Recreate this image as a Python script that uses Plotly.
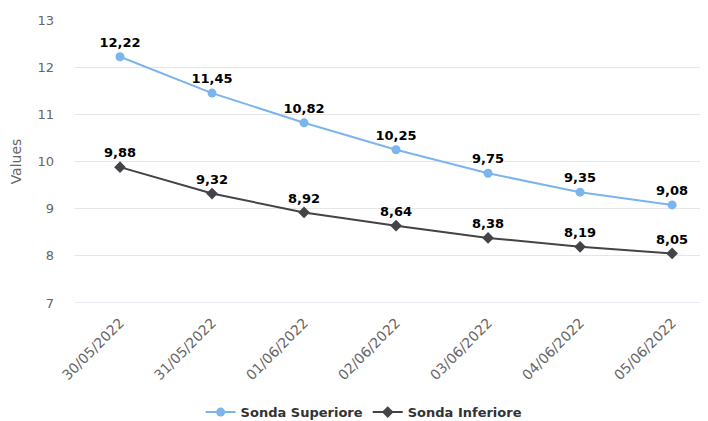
import plotly.graph_objects as go

dates = ["30/05/2022", "31/05/2022", "01/06/2022", "02/06/2022",
         "03/06/2022", "04/06/2022", "05/06/2022"]
sonda_superiore = [12.22, 11.45, 10.82, 10.25, 9.75, 9.35, 9.08]
sonda_inferiore = [9.88, 9.32, 8.92, 8.64, 8.38, 8.19, 8.05]
y_ticks = [7, 8, 9, 10, 11, 12, 13]

FONT = "DejaVu Sans"

def fmt(v):
    return f"{v:.2f}".replace(".", ",")

x_idx = list(range(len(dates)))
label_font = dict(family=FONT, size=13, color="#000000", weight="bold",
                  shadow="1px 1px 0 #fff, -1px -1px 0 #fff, 1px -1px 0 #fff, -1px 1px 0 #fff")

fig = go.Figure()
fig.add_trace(go.Scatter(
    x=x_idx, y=sonda_superiore, name="Sonda Superiore",
    mode="lines+markers+text",
    line=dict(color="#7cb5ec", width=2),
    marker=dict(symbol="circle", size=9, color="#7cb5ec"),
    text=[fmt(v) for v in sonda_superiore], textposition="top center",
    textfont=label_font, cliponaxis=False,
))
fig.add_trace(go.Scatter(
    x=x_idx, y=sonda_inferiore, name="Sonda Inferiore",
    mode="lines+markers+text",
    line=dict(color="#434348", width=2),
    marker=dict(symbol="diamond", size=9, color="#434348"),
    text=[fmt(v) for v in sonda_inferiore], textposition="top center",
    textfont=label_font, cliponaxis=False,
))

fig.update_layout(
    width=708, height=421,
    margin=dict(l=67, r=8, t=12, b=126),
    paper_bgcolor="white", plot_bgcolor="white",
    font=dict(family=FONT, color="#666666", size=12),
    showlegend=True,
    legend=dict(orientation="h", xref="container", x=0.503, xanchor="center",
                yref="container", y=0.040, yanchor="middle",
                font=dict(family=FONT, size=13, color="#333333", weight="bold")),
    xaxis=dict(
        range=[-0.489, 6.39], tickmode="array", tickvals=x_idx, ticktext=dates,
        tickangle=-45, showgrid=False, zeroline=False, showline=False,
        tickfont=dict(size=14, color="#666666"), ticks="", automargin=False,
        ticklabelstandoff=8,
    ),
    yaxis=dict(
        range=[7, 13], tickmode="array", tickvals=y_ticks,
        ticktext=[str(t) for t in y_ticks],
        showgrid=True, gridcolor="#e6e6e6", gridwidth=1, zeroline=False,
        showline=False, ticks="", ticklabelstandoff=20, automargin=False,
        tickfont=dict(size=13, color="#666666"),
        title=dict(text="Values", font=dict(size=14, color="#666666"), standoff=20),
    ),
)
fig.add_shape(type="line", xref="paper", yref="y", x0=0, x1=1, y0=7, y1=7,
              line=dict(color="#ccd6eb", width=1))

fig.write_html("out.html")
